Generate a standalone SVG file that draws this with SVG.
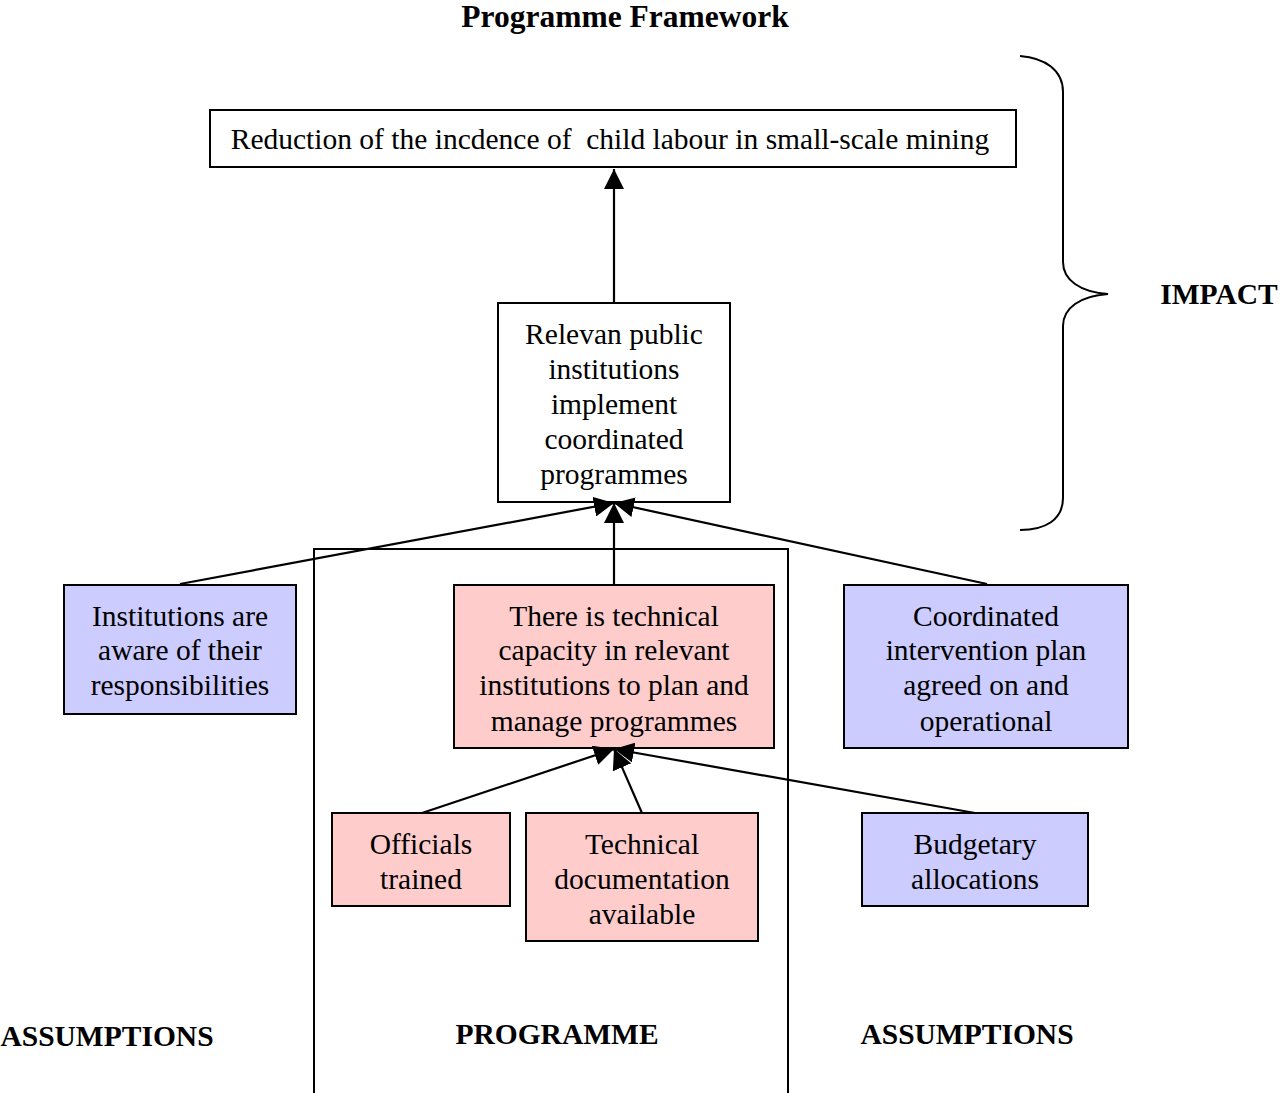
<svg xmlns="http://www.w3.org/2000/svg" width="1280" height="1093" viewBox="0 0 1280 1093">
<defs>
<marker id="ahb" viewBox="0 0 20 20" refX="20" refY="10" markerWidth="20" markerHeight="20" markerUnits="userSpaceOnUse" orient="auto">
<path d="M0,0 L20,10 L0,20 z" fill="#000"/>
</marker>
</defs>
<style>
text{font-family:"Liberation Serif","Times New Roman",serif;font-size:29.5px;fill:#000;text-anchor:middle}
.b{font-weight:bold}
rect{stroke:#000;stroke-width:2}
.w{fill:#fff}
.p{fill:#ffcccc}
.u{fill:#ccccff}
.c line{stroke:#000;stroke-width:2.2;marker-end:url(#ahb)}
</style>
<rect width="1280" height="1093" fill="#fff" style="stroke:none"/>
<text class="b" x="625" y="27" style="font-size:31.5px">Programme Framework</text>
<rect x="314" y="549" width="474" height="560" fill="none"/>
<g id="impact-goal"><rect class="w" x="210" y="110" width="806" height="57"/><text x="610" y="149" xml:space="preserve" style="white-space:pre">Reduction of the incdence of  child labour in small-scale mining</text></g>
<g id="institutions-implement"><rect class="w" x="498" y="303" width="232" height="199"/>
<text x="614" y="344">Relevan public</text><text x="614" y="379">institutions</text><text x="614" y="414">implement</text><text x="614" y="449">coordinated</text><text x="614" y="484">programmes</text></g>
<g id="aware"><rect class="u" x="64" y="585" width="232" height="129"/>
<text x="180" y="626">Institutions are</text><text x="180" y="660">aware of their</text><text x="180" y="695">responsibilities</text></g>
<g id="capacity"><rect class="p" x="454" y="585" width="320" height="163"/>
<text x="614" y="626">There is technical</text><text x="614" y="660">capacity in relevant</text><text x="614" y="695">institutions to plan and</text><text x="614" y="731">manage programmes</text></g>
<g id="plan"><rect class="u" x="844" y="585" width="284" height="163"/>
<text x="986" y="626">Coordinated</text><text x="986" y="660">intervention plan</text><text x="986" y="695">agreed on and</text><text x="986" y="731">operational</text></g>
<g id="officials"><rect class="p" x="332" y="813" width="178" height="93"/>
<text x="421" y="854">Officials</text><text x="421" y="889">trained</text></g>
<g id="documentation"><rect class="p" x="526" y="813" width="232" height="128"/>
<text x="642" y="854">Technical</text><text x="642" y="889">documentation</text><text x="642" y="924">available</text></g>
<g id="budget"><rect class="u" x="862" y="813" width="226" height="93"/>
<text x="975" y="854">Budgetary</text><text x="975" y="889">allocations</text></g>
<g class="c" id="connectors">
<line x1="614" y1="302" x2="614" y2="169"/>
<line x1="180" y1="584" x2="614" y2="503"/>
<line x1="614" y1="585" x2="614" y2="503"/>
<line x1="987" y1="584" x2="614" y2="503"/>
<line x1="422" y1="813" x2="614" y2="749"/>
<line x1="642" y1="813" x2="614" y2="749"/>
<line x1="975" y1="813" x2="614" y2="749"/>
</g>
<path d="M1020,56 C1045,58 1063,70 1063,92 L1063,262 C1063,280 1080,292 1108,294 C1080,296 1063,308 1063,326 L1063,498 C1063,520 1045,530 1020,530" fill="none" stroke="#000" stroke-width="2"/>
<text class="b" x="1219" y="304">IMPACT</text>
<text class="b" x="107" y="1046">ASSUMPTIONS</text>
<text class="b" x="557" y="1044">PROGRAMME</text>
<text class="b" x="967" y="1044">ASSUMPTIONS</text>
</svg>
